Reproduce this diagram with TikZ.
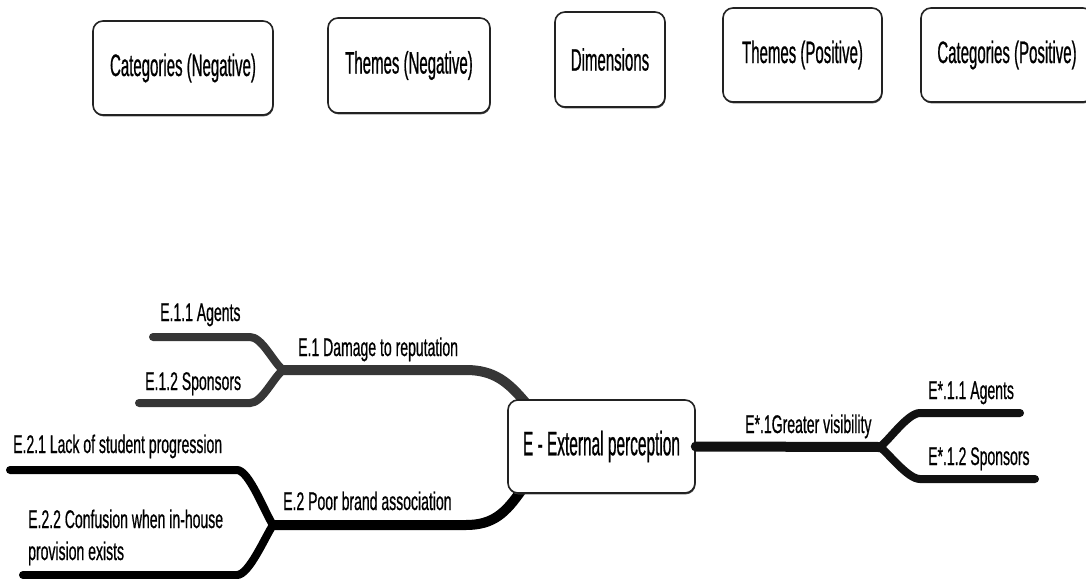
\documentclass[tikz,border=0pt]{standalone}
\usepackage{fontspec}
\setmainfont{Liberation Sans}[FakeStretch=0.55, FakeBold=0.6]
\newfontfamily\headfont{Liberation Sans}[FakeStretch=0.484, FakeBold=0.6]
\newfontfamily\corefont{Liberation Sans}[FakeStretch=0.454, FakeBold=0.6]
\usetikzlibrary{shadows}
\definecolor{edgegray}{HTML}{222222}
\definecolor{branchgray}{HTML}{363636}
\definecolor{branchdark}{HTML}{111111}
\begin{document}
\begin{tikzpicture}[x=1pt,y=-1pt,
  headbox/.style 2 args={draw=edgegray, line width=1.6pt, rounded corners=10pt,
    fill=white, inner sep=0pt, minimum width=#1, minimum height=#2,
    general shadow={fill=black!70, shadow xshift=0.6pt, shadow yshift=-1.4pt},
    font=\headfont\fontsize{31}{34}\selectfont},
  lbl/.style={inner sep=0pt, anchor=base west, font=\fontsize{25.5}{32}\selectfont},
  trunk/.style={line width=10pt, line cap=round},
  twig/.style={line width=8pt, line cap=round},
]
\useasboundingbox (0,0) rectangle (1086,578);

% column headings
\node[headbox={180pt}{94pt}] (catneg) at (183,68) {Categories (Negative)};
\node[headbox={162pt}{95pt}] (themneg) at (409,65.5) {Themes (Negative)};
\node[headbox={110pt}{95pt}] (dims) at (610,59.5) {Dimensions};
\node[headbox={159pt}{94pt}] (thempos) at (802.5,55) {Themes (Positive)};
\node[headbox={172pt}{94pt}] (catpos) at (1007,55) {Categories (Positive)};

% branch forks and free ends
\coordinate (f1) at (283,370);
\coordinate (f1a) at (153,337);
\coordinate (f1b) at (139,403);
\coordinate (f2) at (273,525);
\coordinate (f2a) at (10,470);
\coordinate (f2b) at (23,575);
\coordinate (f3) at (880,447);
\coordinate (f3a) at (1020,413);
\coordinate (f3b) at (1035,479);

% E.1 branch (grey)
\draw[trunk, branchgray] (525,402) .. controls (508,382) and (494,370) .. (466,370) -- (f1);
\draw[twig, branchgray] (f1) .. controls +(-10,-8) and +(12,0) .. (250,337) -- (f1a);
\draw[twig, branchgray] (f1) .. controls +(-10,8) and +(12,0) .. (250,403) -- (f1b);

% E.2 branch (black)
\draw[trunk, black] (521,491) .. controls (506,512) and (494,525) .. (466,525) -- (f2);
\draw[twig, black] (f2) .. controls +(-8,-12) and +(12,0) .. (237,470) -- (f2a);
\draw[twig, black] (f2) .. controls +(-8,12) and +(12,0) .. (237,575) -- (f2b);

% central node
\node[headbox={187pt}{93pt}, font=\corefont\fontsize{34}{38}\selectfont] (E) at (601.5,446.5) {E - External perception};

% E* branch
\draw[trunk, branchdark] (E.east) -- (f3);
\draw[twig, branchdark] (f3) .. controls +(10,-8) and +(-12,0) .. (920,413) -- (f3a);
\draw[twig, branchdark] (f3) .. controls +(10,8) and +(-12,0) .. (920,479) -- (f3b);

% branch labels
\node[lbl] (l11) at (160,321) {E.1.1 Agents};
\node[lbl] (l12) at (145,390) {E.1.2 Sponsors};
\node[lbl] (l1) at (298,356) {E.1 Damage to reputation};
\node[lbl] (l21) at (13,453) {E.2.1 Lack of student progression};
\node[lbl] (l2) at (283,510) {E.2 Poor brand association};
\node[lbl] (l22) at (28,528) {E.2.2 Confusion when in-house};
\node[lbl] (l22b) at (28,560) {provision exists};
\node[lbl] (ls1) at (745,433) {E*.1Greater visibility};
\node[lbl] (ls11) at (928,399) {E*.1.1 Agents};
\node[lbl] (ls12) at (928,465) {E*.1.2 Sponsors};
\end{tikzpicture}
\end{document}
